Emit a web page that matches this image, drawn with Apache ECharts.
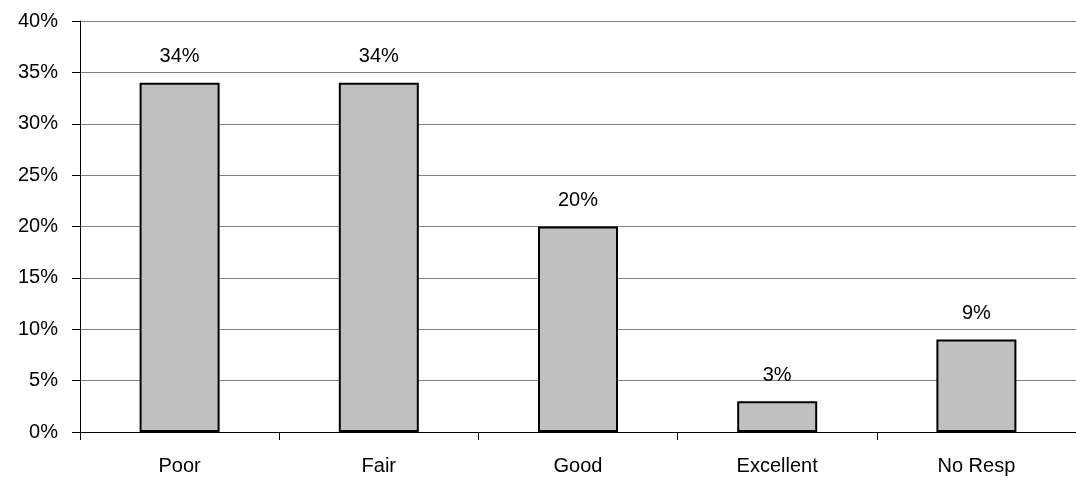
<!DOCTYPE html>
<html><head><meta charset="utf-8">
<script src="https://cdn.jsdelivr.net/npm/echarts@6/dist/echarts.min.js"></script>
<style>html,body{margin:0;padding:0;background:#fff}#c{width:1076px;height:483px}</style>
</head><body><div id="c"></div>
<script>
var categories = ['Poor', 'Fair', 'Good', 'Excellent', 'No Resp'];
var values = [34, 34, 20, 3, 9];
var yTicks = [0, 5, 10, 15, 20, 25, 30, 35, 40];

var chart = echarts.init(document.getElementById('c'));
var font = 'Liberation Sans, Arial, sans-serif';
chart.setOption({
  animation: false,
  grid: { left: 80, top: 21, width: 1000, height: 411, containLabel: false },
  xAxis: {
    type: 'category', data: categories,
    axisLine: { lineStyle: { color: '#000', width: 1 } },
    axisTick: { show: true, length: 8, alignWithLabel: false, lineStyle: { color: '#000' } },
    axisLabel: { color: '#000', fontFamily: font, fontSize: 20, margin: 24 }
  },
  yAxis: {
    type: 'value', min: yTicks[0], max: yTicks[yTicks.length - 1], interval: 5,
    axisLine: { show: true, lineStyle: { color: '#000', width: 1 } },
    axisTick: { show: true, inside: false, length: 8, lineStyle: { color: '#000' } },
    axisLabel: { color: '#000', fontFamily: font, fontSize: 20, margin: 22, formatter: '{value}%' },
    splitLine: { show: true, lineStyle: { color: '#808080', width: 1 } }
  },
  series: [{
    type: 'bar', data: values, barWidth: 80,
    itemStyle: { color: '#c0c0c0', borderColor: '#000', borderWidth: 2 },
    label: { show: true, position: 'top', distance: 16, color: '#000', fontFamily: font, fontSize: 20, formatter: '{c}%' }
  }]
});
</script></body></html>
